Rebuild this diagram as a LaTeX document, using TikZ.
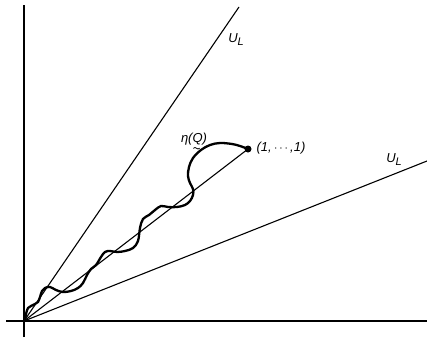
\documentclass[tikz,border=0pt]{standalone}
\usepackage{fontspec}
\setmainfont{Liberation Sans}
\newcommand{\mysub}[1]{\raisebox{-3pt}{\fontsize{11}{12}\selectfont #1}}
\begin{document}
\begin{tikzpicture}[x=1pt,y=-1pt,
  axis/.style={line width=1.5pt},
  ray/.style={line width=1.1pt},
  wiggle/.style={line width=2.3pt,line cap=round,line join=round},
  tildemark/.style={line width=0.8pt,line cap=round},
  lbl/.style={inner sep=0pt,font=\fontsize{13}{15}\selectfont\itshape}]
\useasboundingbox (0,0) rectangle (427,337);
\coordinate (O) at (24,321);
\coordinate (ytop) at (24,5);
\coordinate (ybot) at (24,337);
\coordinate (xl) at (6,321);
\coordinate (xr) at (427,321);
\coordinate (r1) at (239,7);
\coordinate (r2) at (427,161);
\draw[axis] (ybot) -- (ytop);
\draw[axis] (xl) -- (xr);
\draw[ray] (O) -- (r1);
\draw[ray] (O) -- (r2);
\node[circle,fill,inner sep=0pt,minimum size=7pt] (P) at (248,149) {};
\draw[ray] (O) -- (P.center);
\draw[wiggle] plot[smooth,tension=0.6] coordinates {
(25,321) (26,314) (28,308) (31,306) (35,304) (38,302) (40,297) (42,291)
(45,288) (50,287) (56,290) (63,292) (71,291) (78,288) (83,283) (87,275)
(91,269) (96,265) (101,257) (105,252) (110,251) (117,252) (125,251) (133,248)
(138,241) (140,228) (143,219) (149,215) (155,210) (161,206) (168,207) (177,207)
(185,205) (190,201) (193,195) (193,189) (190,183) (188,176) (189,167) (193,158)
(201,150) (210,145) (220,143) (232,144) (240,146) (248,149)};
\node[lbl] (ul1) at (236,40) {U\mysub{L}};
\node[lbl] (ul2) at (394,160) {U\mysub{L}};
\node[lbl] (eta) at (194,139) {η(Q)};
\begin{scope}[shift={(eta.south)}]
\draw[tildemark] (-0.5,3) .. controls (1.5,0.5) and (3.5,5.5) .. (5.5,3);
\end{scope}
\node[lbl] (one) at (281,148) {(1,\,$\cdots$\,,1)};
\end{tikzpicture}
\end{document}
